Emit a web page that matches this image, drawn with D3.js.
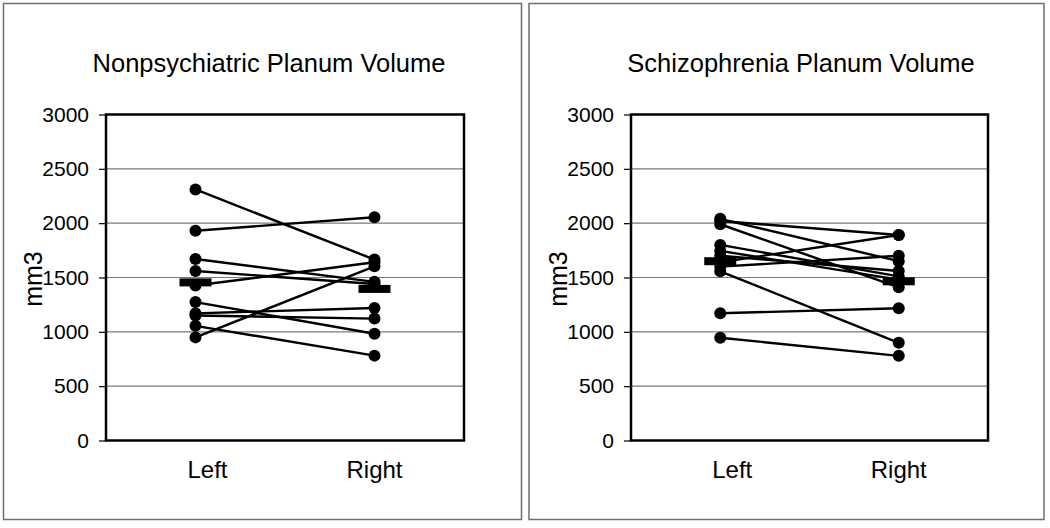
<!DOCTYPE html>
<html>
<head>
<meta charset="utf-8">
<script src="https://cdn.jsdelivr.net/npm/d3@7"></script>
<style>
  html, body { margin: 0; padding: 0; background: #fff; }
  svg { display: block; }
  text { font-family: "Liberation Sans", Arial, sans-serif; fill: #000; }
</style>
</head>
<body>
<svg id="chart" width="1050" height="528"></svg>
<script>
// ---- data ----
const categories = ["Left", "Right"];
const yTicks = [0, 500, 1000, 1500, 2000, 2500, 3000];

const titles = ["Nonpsychiatric Planum Volume", "Schizophrenia Planum Volume"];
const yLabel = "mm3";

// Nonpsychiatric subjects: left / right hemisphere volumes (paired)
const npLeft  = [2310, 1930, 1670, 1560, 1426, 1274, 1170, 1150, 1055, 949];
const npRight = [1665, 2055, 1460, 1440, 1640, 982, 1219, 1122, 781, 1603];
const npMean  = [1455, 1395];

// Schizophrenia subjects: left / right hemisphere volumes (paired)
const scLeft  = [2040, 2020, 1990, 1800, 1745, 1700, 1640, 1600, 1557, 1171, 946];
const scRight = [1650, 1891, 1410, 1510, 1480, 1560, 1891, 1700, 899, 1217, 779];
const scMean  = [1650, 1465];

// ---- layout ----
const svg = d3.select("#chart");
const panels = [
  { x0: 0,   frame: [3.5, 3.5, 518, 516], plot: [106, 114.5, 464, 440.5], titleX: 269, left: npLeft, right: npRight, mean: npMean, title: titles[0] },
  { x0: 525, frame: [4, 3.5, 515, 516],   plot: [106, 114.5, 463, 440.5], titleX: 276, left: scLeft, right: scRight, mean: scMean, title: titles[1] }
];

panels.forEach(p => {
  const g = svg.append("g").attr("transform", `translate(${p.x0},0)`);

  // outer frame
  g.append("rect")
    .attr("x", p.frame[0]).attr("y", p.frame[1])
    .attr("width", p.frame[2]).attr("height", p.frame[3])
    .attr("fill", "#fff").attr("stroke", "#6e6e6e").attr("stroke-width", 1.5);

  const [L, T, R, B] = p.plot;
  const x = d3.scalePoint().domain(categories).range([L, R]).padding(0.5);
  const y = d3.scaleLinear().domain([0, 3000]).range([B, T]);

  // gridlines
  g.append("g").selectAll("line")
    .data(yTicks.filter(d => d > 0 && d < 3000))
    .join("line")
    .attr("x1", L).attr("x2", R)
    .attr("y1", d => y(d)).attr("y2", d => y(d))
    .attr("stroke", "#7a7a7a").attr("stroke-width", 1.2);

  // y axis
  const ax = g.append("g").attr("transform", `translate(${L},0)`)
    .call(d3.axisLeft(y).tickValues(yTicks).tickSize(7).tickPadding(10).tickFormat(d3.format("d")));
  ax.select(".domain").remove();
  ax.selectAll(".tick line").attr("stroke", "#000").attr("stroke-width", 1.2);
  ax.selectAll(".tick text").attr("font-size", 21).attr("font-family", "Liberation Sans, Arial, sans-serif").attr("fill", "#000");

  // plot border
  g.append("rect")
    .attr("x", L).attr("y", T).attr("width", R - L).attr("height", B - T)
    .attr("fill", "none").attr("stroke", "#000").attr("stroke-width", 2.5);

  // paired lines
  const pairs = p.left.map((v, i) => [v, p.right[i]]);
  g.append("g").selectAll("line")
    .data(pairs)
    .join("line")
    .attr("x1", x("Left")).attr("x2", x("Right"))
    .attr("y1", d => y(d[0])).attr("y2", d => y(d[1]))
    .attr("stroke", "#000").attr("stroke-width", 2.4);

  // points
  const pts = [];
  p.left.forEach(v => pts.push({ c: "Left", v }));
  p.right.forEach(v => pts.push({ c: "Right", v }));
  g.append("g").selectAll("circle")
    .data(pts)
    .join("circle")
    .attr("cx", d => x(d.c)).attr("cy", d => y(d.v)).attr("r", 6)
    .attr("fill", "#000");

  // mean bars
  g.append("g").selectAll("rect")
    .data(categories.map((c, i) => ({ c, v: p.mean[i] })))
    .join("rect")
    .attr("x", d => x(d.c) - 16).attr("y", d => y(d.v) - 4)
    .attr("width", 32).attr("height", 8)
    .attr("fill", "#000");

  // x category labels
  g.append("g").selectAll("text")
    .data(categories)
    .join("text")
    .attr("x", d => x(d) + (d === "Left" ? 12 : 0))
    .attr("y", 478)
    .attr("text-anchor", "middle")
    .attr("font-size", 24)
    .text(d => d);

  // title
  g.append("text")
    .attr("x", p.titleX).attr("y", 72)
    .attr("text-anchor", "middle")
    .attr("font-size", 25.5)
    .text(p.title);

  // y label
  g.append("text")
    .attr("transform", `translate(42,279) rotate(-90)`)
    .attr("text-anchor", "middle")
    .attr("font-size", 25)
    .text(yLabel);
});
</script>
</body>
</html>
